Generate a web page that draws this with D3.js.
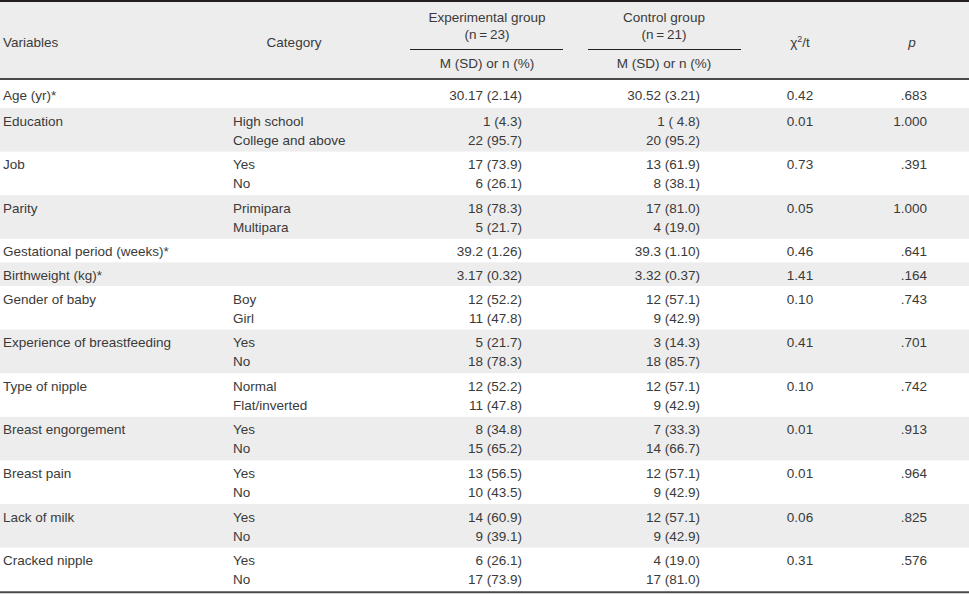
<!DOCTYPE html>
<html>
<head>
<meta charset="utf-8">
<script src="https://cdn.jsdelivr.net/npm/d3@7"></script>
<style>
  html, body { margin: 0; padding: 0; background: #fff; }
  svg { display: block; }
  text { font-family: "Liberation Sans", Arial, sans-serif; font-size: 13.5px; fill: #3a3a3a; }
</style>
</head>
<body>
<svg id="chart" width="969" height="595"></svg>
<script>
// ---- data ----
const variables = ["Age (yr)*", "Education", "Job", "Parity", "Gestational period (weeks)*",
  "Birthweight (kg)*", "Gender of baby", "Experience of breastfeeding", "Type of nipple",
  "Breast engorgement", "Breast pain", "Lack of milk", "Cracked nipple"];
const categories = [[], ["High school", "College and above"], ["Yes", "No"], ["Primipara", "Multipara"],
  [], [], ["Boy", "Girl"], ["Yes", "No"], ["Normal", "Flat/inverted"], ["Yes", "No"],
  ["Yes", "No"], ["Yes", "No"], ["Yes", "No"]];
const experimental = [["30.17 (2.14)"], ["1 (4.3)", "22 (95.7)"], ["17 (73.9)", "6 (26.1)"],
  ["18 (78.3)", "5 (21.7)"], ["39.2 (1.26)"], ["3.17 (0.32)"], ["12 (52.2)", "11 (47.8)"],
  ["5 (21.7)", "18 (78.3)"], ["12 (52.2)", "11 (47.8)"], ["8 (34.8)", "15 (65.2)"],
  ["13 (56.5)", "10 (43.5)"], ["14 (60.9)", "9 (39.1)"], ["6 (26.1)", "17 (73.9)"]];
const control = [["30.52 (3.21)"], ["1 ( 4.8)", "20 (95.2)"], ["13 (61.9)", "8 (38.1)"],
  ["17 (81.0)", "4 (19.0)"], ["39.3 (1.10)"], ["3.32 (0.37)"], ["12 (57.1)", "9 (42.9)"],
  ["3 (14.3)", "18 (85.7)"], ["12 (57.1)", "9 (42.9)"], ["7 (33.3)", "14 (66.7)"],
  ["12 (57.1)", "9 (42.9)"], ["12 (57.1)", "9 (42.9)"], ["4 (19.0)", "17 (81.0)"]];
const chiT = ["0.42", "0.01", "0.73", "0.05", "0.46", "1.41", "0.10", "0.41", "0.10", "0.01", "0.01", "0.06", "0.31"];
const pValues = [".683", "1.000", ".391", "1.000", ".641", ".164", ".743", ".701", ".742", ".913", ".964", ".825", ".576"];
const headerLabels = ["Variables", "Category", "Experimental group", "(n\u2009=\u200923)", "Control group", "(n\u2009=\u200921)", "M (SD) or n (%)"];

// ---- layout ----
const W = 969;
const svg = d3.select("#chart");
const headerH = 79.5;
const lineGap = 19;
const grey = "#ededed";

const rows = variables.map((v, i) => ({
  variable: v,
  cats: categories[i],
  exp: experimental[i],
  ctl: control[i],
  chi: chiT[i],
  p: pValues[i],
  n: Math.max(1, categories[i].length, experimental[i].length)
}));

let y0 = headerH;
rows.forEach((r, i) => {
  r.h = i === 0 ? 28.5 : (r.n === 2 ? 43.6 : 23.6);
  r.top = y0;
  y0 += r.h;
});
const tableBottom = y0;

const col = { variable: 3, category: 233, expRight: 522, ctlRight: 700, chi: 800, pRight: 927 };

svg.append("rect").attr("x", 0).attr("y", 0).attr("width", W).attr("height", headerH).attr("fill", grey);

svg.selectAll("rect.rowbg").data(rows.filter((r, i) => i % 2 === 1)).enter()
  .append("rect").attr("class", "rowbg")
  .attr("x", 0).attr("y", d => d.top).attr("width", W).attr("height", d => d.h)
  .attr("fill", grey);

const hdr = svg.append("g");
hdr.append("text").attr("x", col.variable).attr("y", 46.5).text(headerLabels[0]);
hdr.append("text").attr("x", 294).attr("y", 46.5).attr("text-anchor", "middle").text(headerLabels[1]);
[[487, 2, 3], [664, 4, 5]].forEach(([cx, a, b]) => {
  hdr.append("text").attr("x", cx).attr("y", 21.5).attr("text-anchor", "middle").text(headerLabels[a]);
  hdr.append("text").attr("x", cx).attr("y", 39).attr("text-anchor", "middle").text(headerLabels[b]);
  hdr.append("text").attr("x", cx).attr("y", 68).attr("text-anchor", "middle").text(headerLabels[6]);
});
const chiHead = hdr.append("text").attr("x", 800).attr("y", 46.5).attr("text-anchor", "middle");
chiHead.append("tspan").text("χ");
chiHead.append("tspan").attr("dy", -5).attr("font-size", "9px").text("2");
chiHead.append("tspan").attr("dy", 5).text("/t");
hdr.append("text").attr("x", 912).attr("y", 46.5).attr("text-anchor", "middle")
  .attr("font-style", "italic").text("p");

svg.append("line").attr("x1", 410).attr("x2", 563).attr("y1", 49.5).attr("y2", 49.5)
  .attr("stroke", "#222").attr("stroke-width", 1);
svg.append("line").attr("x1", 588).attr("x2", 741).attr("y1", 49.5).attr("y2", 49.5)
  .attr("stroke", "#222").attr("stroke-width", 1);

svg.append("line").attr("x1", 0).attr("x2", W).attr("y1", 1).attr("y2", 1)
  .attr("stroke", "#231f20").attr("stroke-width", 2.2);
svg.append("line").attr("x1", 0).attr("x2", W).attr("y1", headerH - 0.5).attr("y2", headerH - 0.5)
  .attr("stroke", "#4a4a4a").attr("stroke-width", 2);
svg.append("line").attr("x1", 0).attr("x2", W).attr("y1", tableBottom + 1).attr("y2", tableBottom + 1)
  .attr("stroke", "#4a4a4a").attr("stroke-width", 2);

function lineY(r, k) {
  const c = r.top + r.h / 2 + (r === rows[0] ? 1.5 : 0.5);
  return c - (r.n - 1) * lineGap / 2 + k * lineGap + 4.8;
}

const g = svg.selectAll("g.row").data(rows).enter().append("g").attr("class", "row");

g.append("text").attr("x", col.variable).attr("y", d => lineY(d, 0)).text(d => d.variable);

g.each(function(d) {
  const sel = d3.select(this);
  d.cats.forEach((c, k) => sel.append("text").attr("x", col.category).attr("y", lineY(d, k)).text(c));
  d.exp.forEach((c, k) => sel.append("text").attr("x", col.expRight).attr("y", lineY(d, k))
    .attr("text-anchor", "end").attr("xml:space", "preserve").style("white-space", "pre").text(c));
  d.ctl.forEach((c, k) => sel.append("text").attr("x", col.ctlRight).attr("y", lineY(d, k))
    .attr("text-anchor", "end").attr("xml:space", "preserve").style("white-space", "pre").text(c));
});

g.append("text").attr("x", col.chi).attr("y", d => lineY(d, 0)).attr("text-anchor", "middle").text(d => d.chi);
g.append("text").attr("x", col.pRight).attr("y", d => lineY(d, 0)).attr("text-anchor", "end").text(d => d.p);
</script>
</body>
</html>
